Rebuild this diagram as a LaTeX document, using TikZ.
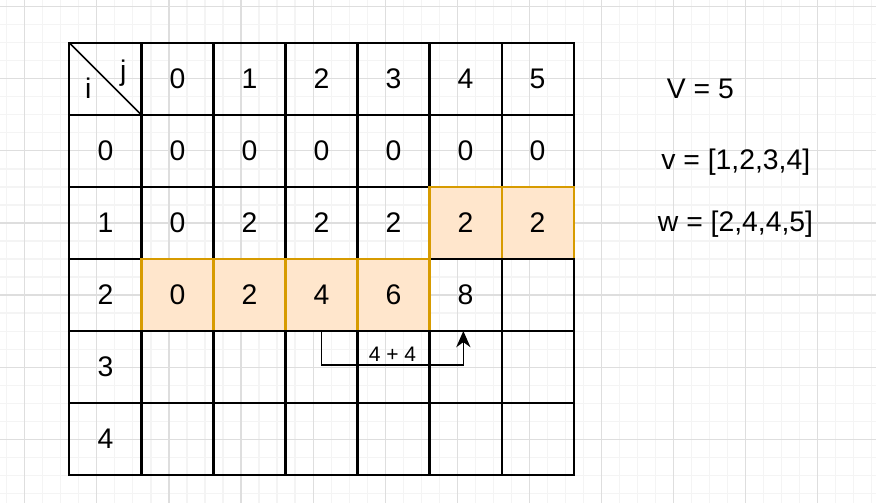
\documentclass[tikz,border=0pt]{standalone}
\usepackage{fontspec}
\setmainfont{Liberation Sans}
\usetikzlibrary{arrows.meta,positioning}

\definecolor{hlfill}{HTML}{FFE6CC}
\definecolor{hldraw}{HTML}{D79B00}
\definecolor{gridmajor}{HTML}{DEDEDE}
\definecolor{gridminor}{HTML}{F4F4F4}

\begin{document}
\begin{tikzpicture}[
    x=1cm, y=-1cm,
    cell/.style={rectangle, draw, line width=0.8pt, minimum size=1cm,
                 inner sep=0pt, outer sep=0pt, font=\fontsize{11.2}{13}\selectfont},
    hlcell/.style={cell, fill=hlfill, draw=hldraw},
    lbl/.style={font=\fontsize{11.2}{13}\selectfont, inner sep=0pt},
    sumlbl/.style={font=\fontsize{8.3}{10}\selectfont, inner sep=1pt},
    arr/.style={->, >={Stealth[length=6.4pt, width=5.6pt, inset=2pt]}, line width=0.65pt},
    minorln/.style={gridminor, line width=0.4pt},
    majorln/.style={gridmajor, line width=0.4pt},
  ]

  % === Canvas and background grid ===
  \fill[white] (-0.965,-0.597) rectangle (11.201,6.375);
  \useasboundingbox (-0.965,-0.597) rectangle (11.201,6.375);
  \begin{scope}
    \clip (-0.965,-0.597) rectangle (11.201,6.375);
    \foreach \k in {-5,...,43} \draw[minorln] ({0.382+0.25*\k},-0.7) -- ++(0,7.2);
    \foreach \k in {-4,...,23} \draw[minorln] (-1,{0.5+0.25*\k}) -- ++(12.3,0);
    \foreach \k in {-1,...,10} \draw[majorln] ({0.382+\k},-0.7) -- ++(0,7.2);
    \foreach \k in {-1,...,5} \draw[majorln] (-1,{0.5+\k}) -- ++(12.3,0);
  \end{scope}

  % === Header row ===
  \node[cell] (t00) at (0.5,0.5) {};
  \draw[line width=0.65pt] (t00.north west) -- (t00.south east);
  \node[lbl] (lj) at (0.747,0.417) {j};
  \node[lbl] (li) at (0.261,0.629) {i};
  \foreach \v [count=\k] in {0,...,5}
    \node[cell] (t0\k) at (\k+0.5,0.5) {\v};

  % === Row labels ===
  \foreach \v [count=\r] in {0,...,4}
    \node[cell] (t\r0) at (0.5,\r+0.5) {\v};

  % === Row i=0 ===
  \foreach \k in {1,...,6}
    \node[cell] (t1\k) at (\k+0.5,1.5) {0};

  % === Row i=1 ===
  \node[cell]   (t21) at (1.5,2.5) {0};
  \node[cell]   (t22) at (2.5,2.5) {2};
  \node[cell]   (t23) at (3.5,2.5) {2};
  \node[cell]   (t24) at (4.5,2.5) {2};
  \node[hlcell] (t25) at (5.5,2.5) {2};
  \node[hlcell] (t26) at (6.5,2.5) {2};

  % === Row i=2 ===
  \node[cell]   (t35) at (5.5,3.5) {8};
  \node[cell]   (t36) at (6.5,3.5) {};
  \node[hlcell] (t31) at (1.5,3.5) {0};
  \node[hlcell] (t32) at (2.5,3.5) {2};
  \node[hlcell] (t33) at (3.5,3.5) {4};
  \node[hlcell] (t34) at (4.5,3.5) {6};

  % === Rows i=3,4 (empty) ===
  \foreach \r in {4,5}
    \foreach \k in {1,...,6}
      \node[cell] (t\r\k) at (\k+0.5,\r+0.5) {};

  % === 4 + 4 ===
  \draw[arr] (t33.south) -- ++(0,0.47) -| ([xshift=-0.03cm]t35.south)
    node[sumlbl, pos=0.25, anchor=south] (sum) {4 + 4};

  % === Inputs ===
  \node[lbl] (cap)  at (8.761,0.635) {V = 5};
  \node[lbl] (vals) at (9.254,1.66)  {v = [1,2,3,4]};
  \node[lbl] (wts)  at (9.25,2.514)  {w = [2,4,4,5]};

\end{tikzpicture}
\end{document}
